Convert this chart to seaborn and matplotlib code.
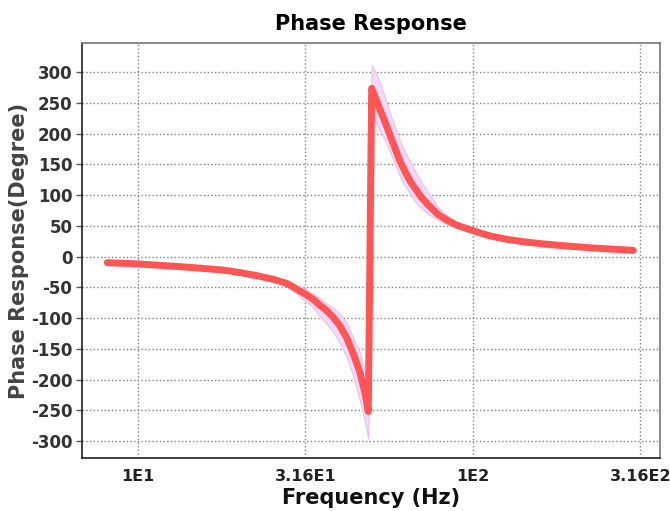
import matplotlib
matplotlib.use("Agg")
import matplotlib.pyplot as plt
import seaborn as sns
import pandas as pd

# values
freq = [8.1, 10.0, 11.63, 14.3, 17.97, 20.1, 22.6, 25.3, 27.8, 29.8, 30.4, 31.89, 33.37,
        34.9, 36.59, 38.3, 40.09, 41.98, 43.93, 46.0, 47.6, 48.7,
        49.85, 52.17, 54.6, 56.52, 58.5, 60.55, 62.7, 64.86, 67.1, 70.3, 73.5, 78.8,
        84.4, 89.4, 100.0, 112.4, 126.1, 141.3, 158.5, 181.8, 228.6, 301.0]
phase = [-10, -12, -14.3, -17.6, -22, -26, -31, -37, -43.6, -53, -56, -62.6, -69.6,
         -79, -88, -99, -113, -132, -158, -189, -222, -252,
         273.5, 246, 219, 197.6, 176, 155, 138, 123, 111, 95.6, 84, 68,
         58, 51, 42, 33.5, 28, 24, 21, 18, 13.8, 10]
band_lo = [-10, -12, -14.3, -17.6, -22.7, -27.4, -33.1, -40.5, -48.1, -60, -65.8, -73, -83,
           -97, -109, -123, -141, -163, -194, -234, -268, -296,
           235, 210, 190, 171, 150, 131, 115, 102, 90, 78, 69, 59,
           52, 47, 40, 33, 28, 24, 21, 18, 13.8, 10]
band_hi = [-10, -12, -14.3, -17.6, -21.3, -24.6, -28.9, -34.2, -40, -47.4, -49, -54.6, -60.6,
           -67.8, -76.8, -83.6, -93, -108, -132, -157, -189, -226,
           311, 290, 259, 233, 211, 188, 170, 155, 139, 120, 104, 80,
           65, 55, 45, 34.5, 28, 24, 21, 18, 13.8, 10]
tick_vals = [10, 31.6, 100, 316]
tick_text = ["1E1", "3.16E1", "1E2", "3.16E2"]
y_ticks = list(range(-300, 301, 50))

df = pd.DataFrame({"freq": freq, "phase": phase, "lo": band_lo, "hi": band_hi})

sns.set_style("white")
fig = plt.figure(figsize=(6.7, 5.11), dpi=100)
ax = fig.add_axes([0.1224, 0.1037, 0.8626, 0.8122])

ax.fill_between(df["freq"], df["lo"], df["hi"], facecolor="#fbd8fb",
                edgecolor="#e0c2e8", linewidth=0.8, zorder=2)
sns.lineplot(data=df, x="freq", y="phase", ax=ax, color="#ff5555",
             linewidth=5, sort=False, zorder=3, solid_capstyle="round",
             solid_joinstyle="round")

ax.set_xscale("log")
ax.set_xlim(6.81, 361.5)
ax.set_ylim(-327.6, 347.2)
ax.set_xticks(tick_vals)
ax.set_xticklabels(tick_text)
ax.minorticks_off()
ax.set_yticks(y_ticks)
ax.set_yticklabels([str(v) for v in y_ticks])

ax.grid(True, linestyle=":", color="#808080", linewidth=1)
ax.tick_params(axis="x", length=0, pad=8, labelsize=11.5, labelcolor="#222222")
ax.tick_params(axis="y", length=4, width=1, color="#555555", pad=3,
               labelsize=12, labelcolor="#333333", left=True)
for lab in ax.get_xticklabels() + ax.get_yticklabels():
    lab.set_fontweight("bold")

for side in ["left", "bottom"]:
    ax.spines[side].set_color("#222222")
    ax.spines[side].set_linewidth(1.2)
for side in ["top", "right"]:
    ax.spines[side].set_color("#777777")
    ax.spines[side].set_linewidth(1.2)

ax.set_title("Phase Response", fontsize=15, fontweight="bold", color="black", pad=9)
ax.set_xlabel("Frequency (Hz)", fontsize=15, fontweight="bold", color="#111111", labelpad=3)
ax.set_ylabel("Phase Response(Degree)", fontsize=15, fontweight="bold", color="#444444", labelpad=1)

fig.savefig("out.png", dpi=100)
